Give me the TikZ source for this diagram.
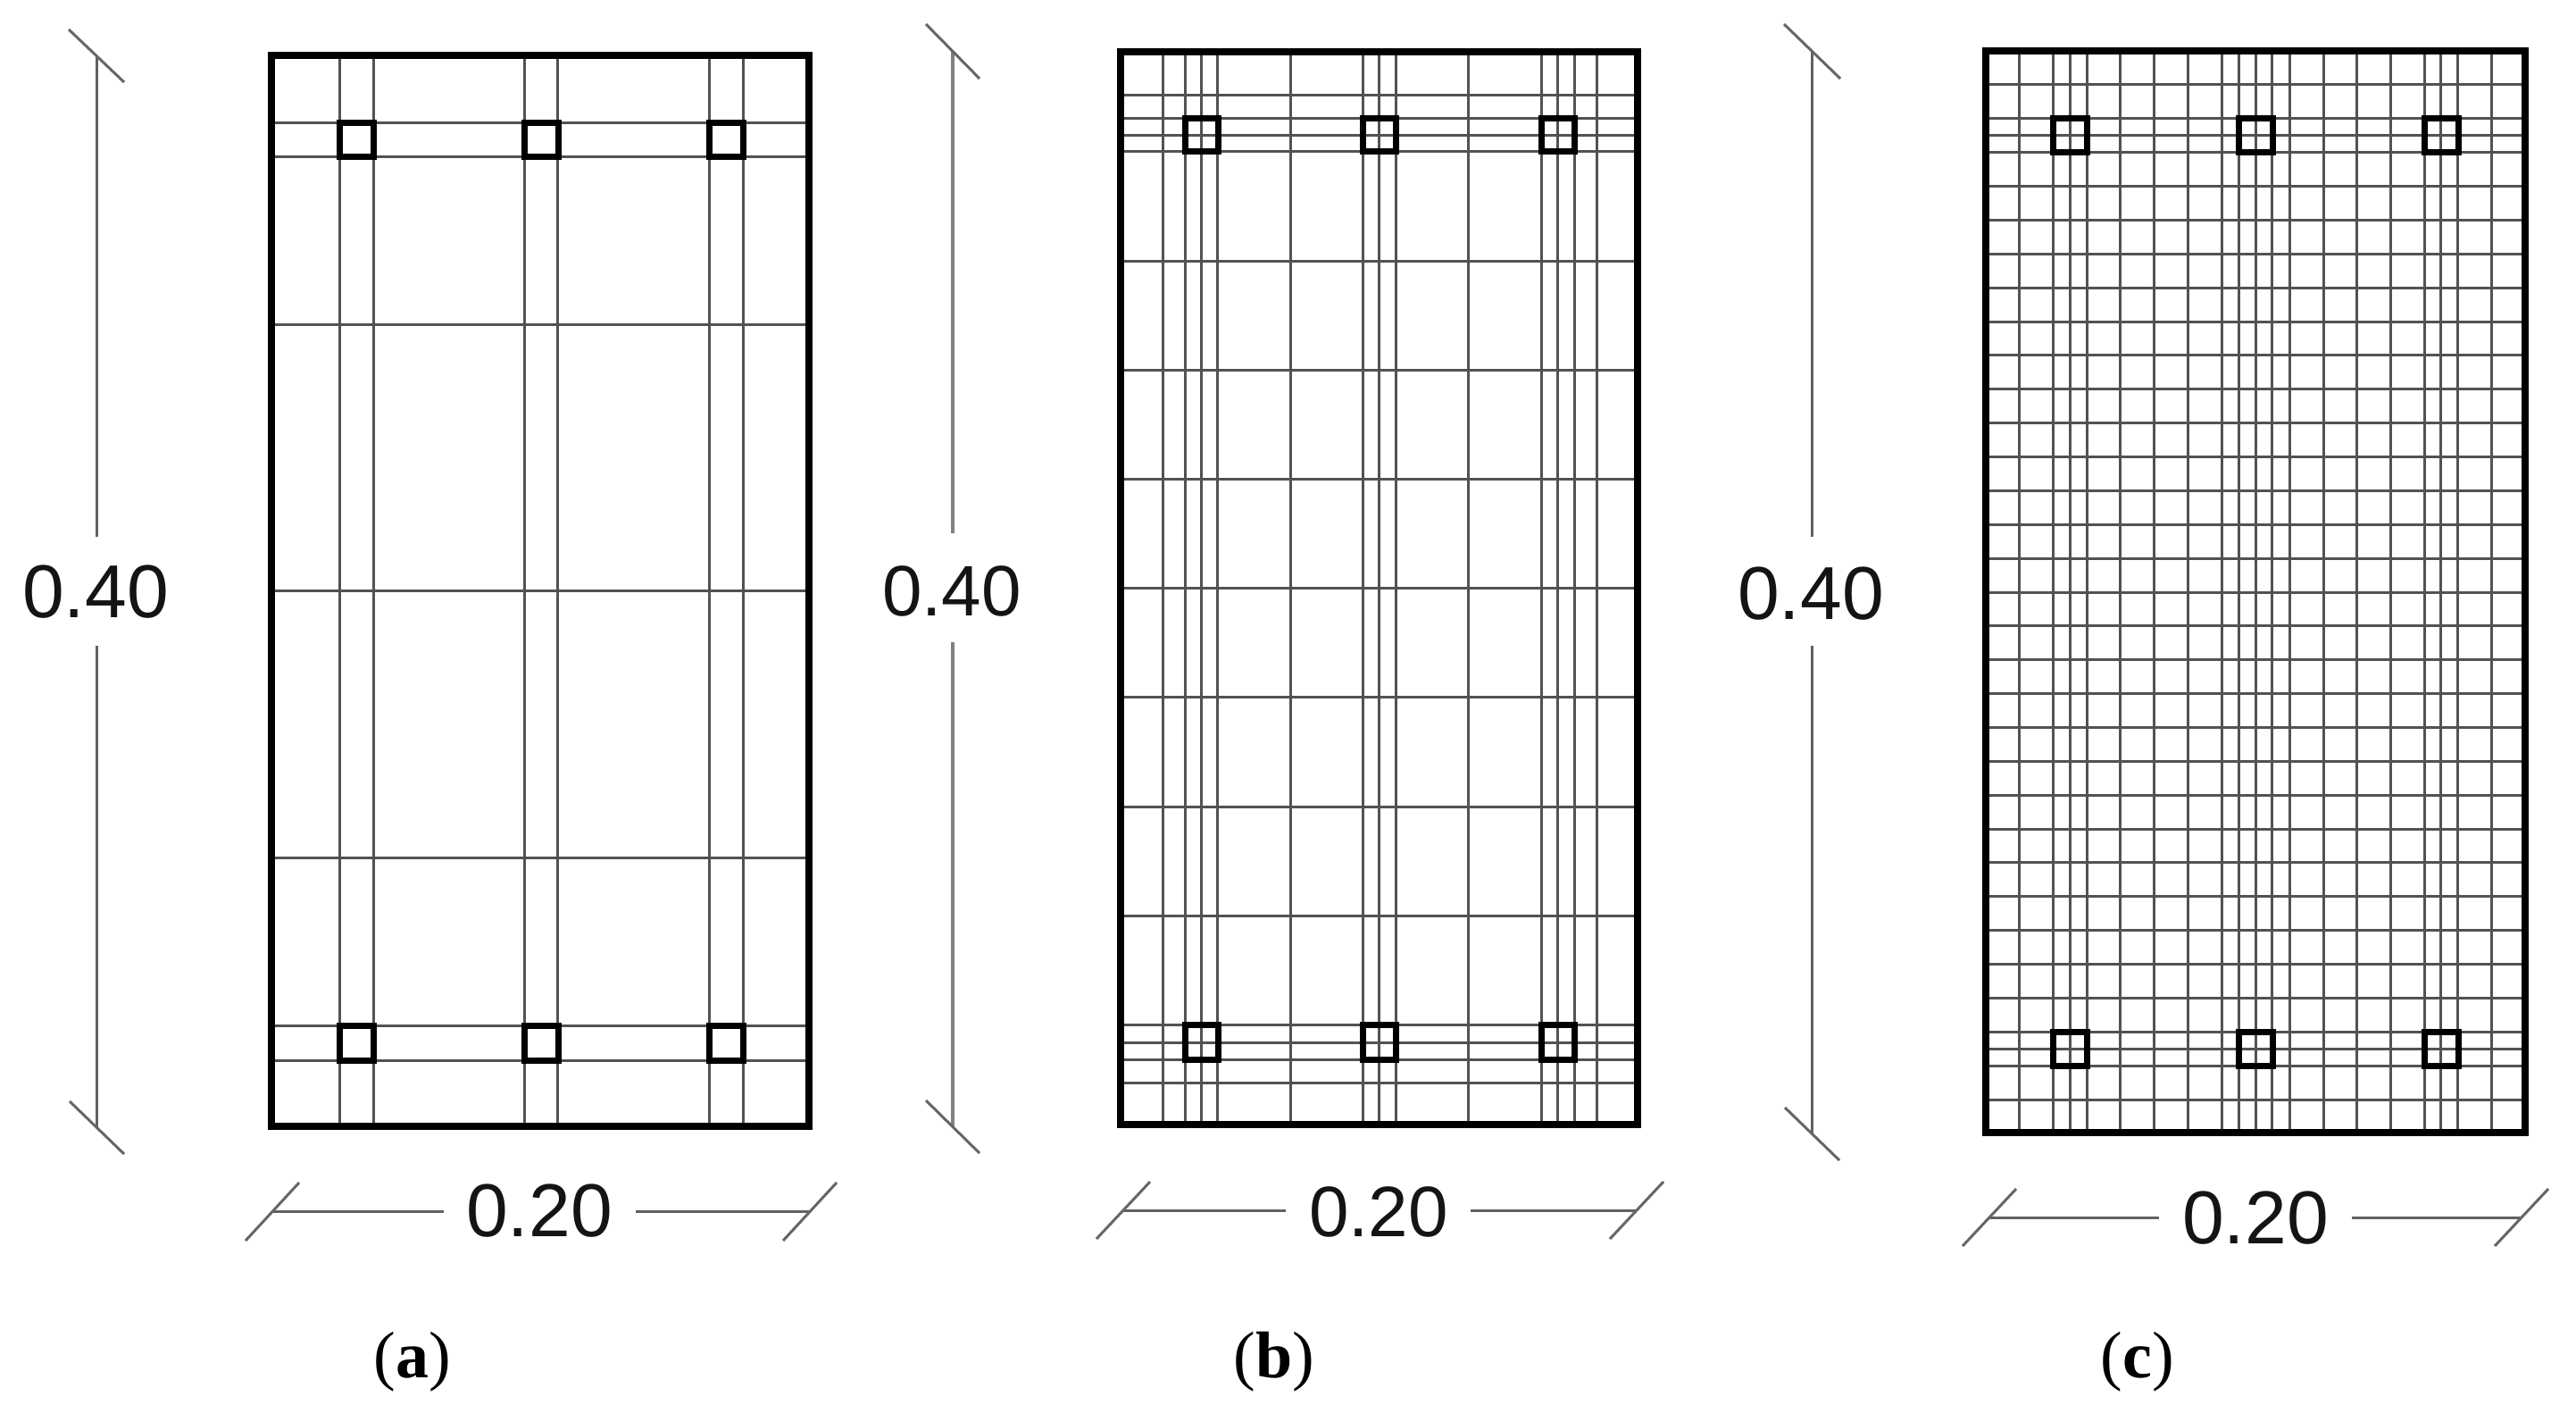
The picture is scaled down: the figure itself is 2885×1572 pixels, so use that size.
\documentclass[tikz,border=0pt]{standalone}
\usepackage{fontspec}
\usetikzlibrary{calc}
\setmainfont{Liberation Sans}
\newfontfamily\capfont{Liberation Serif}
\tikzset{
  gridline/.style={draw=black!68,line width=3pt},
  frame/.style={draw=black,line width=7.5pt,line join=miter},
  rebar/.style={draw=black,line width=7pt,line join=miter},
  dimline/.style={draw=black!62,line width=3pt},
  dimtick/.style={draw=black!60,line width=3pt},
  dimtext/.style={anchor=base,inner sep=0pt,font=\fontsize{84}{90}\selectfont,text=black!92},
  dimtextb/.style={anchor=base,inner sep=0pt,font=\fontsize{80}{90}\selectfont,text=black!92},
  caption/.style={anchor=base,inner sep=0pt,font=\capfont\fontsize{74}{80}\selectfont,text=black}
}
\begin{document}
\begin{tikzpicture}[x=1pt,y=-1pt]
\useasboundingbox[fill=white] (0,0) rectangle (2885,1572);

% ---------- panel (a)
\foreach \x in {380,418,587,624,794,832} \draw[gridline] (\x,62) -- (\x,1261);
\foreach \y in {137,175,363,661,960,1148,1187} \draw[gridline] (304,\y) -- (906,\y);
\foreach \x in {380,587,794} {
  \draw[rebar] (\x,137) rectangle ++(38,38);
  \draw[rebar] (\x,1148) rectangle ++(38,39);
}
\draw[frame] (304,62) rectangle (906,1261);

% ---------- panel (b)
\foreach \x in {1302,1327,1345,1363,1445,1526,1544.5,1563,1644,1726,1744.5,1763,1788}
  \draw[gridline] (\x,58) -- (\x,1259);
\foreach \y in {106,132,151,169,292,414,536.4,658.6,780.8,903,1025.2,1147,1167,1186,1212}
  \draw[gridline] (1255,\y) -- (1834,\y);
\foreach \x in {1327,1526,1726} {
  \draw[rebar] (\x,132) rectangle ++(37,37);
  \draw[rebar] (\x,1147) rectangle ++(37,39);
}
\draw[frame] (1255,58) rectangle (1834,1259);

% ---------- panel (c)
\foreach \x in {2261,2299,2318,2337,2374.5,2412,2450,2488,2507,2526,2544,2564,2602,2639,2677,2715,2733,2752,2790}
  \draw[gridline] (\x,57) -- (\x,1268);
\foreach \y in {94,132,151,170,208,246,284,322,360,397,435,473,511,549,587,625,663,700,738,776,814,852,890,928,965,1003,1041,1079,1117,1155,1174,1193,1231}
  \draw[gridline] (2224,\y) -- (2828,\y);
\foreach \x in {2299,2507,2715} {
  \draw[rebar] (\x,132) rectangle ++(38,38);
  \draw[rebar] (\x,1155) rectangle ++(38,38);
}
\draw[frame] (2224,57) rectangle (2828,1268);

% ---------- dimensions (a)
\node[dimtext] (av) at (107,691) {0.40};
\coordinate (avt) at (108,62);  \coordinate (avb) at (108,1262);
\coordinate (av1) at (108,601); \coordinate (av2) at (108,723);
\draw[dimline] (avt) -- (av1);
\draw[dimline] (av2) -- (avb);
\draw[dimtick] ($(avt)+(-31,-29)$) -- ($(avt)+(31,30)$);
\draw[dimtick] ($(avb)+(-30,-29)$) -- ($(avb)+(31,30)$);
\node[dimtext] (ah) at (604,1384) {0.20};
\coordinate (ahl) at (305,1356); \coordinate (ahr) at (907,1356);
\coordinate (ah1) at (497,1356); \coordinate (ah2) at (712,1356);
\draw[dimline] (ahl) -- (ah1);
\draw[dimline] (ah2) -- (ahr);
\draw[dimtick] ($(ahl)+(-30,33)$) -- ($(ahl)+(30,-32)$);
\draw[dimtick] ($(ahr)+(-30,33)$) -- ($(ahr)+(30,-32)$);

% ---------- dimensions (b)
\node[dimtextb] (bv) at (1066,689) {0.40};
\coordinate (bvt) at (1067,58);  \coordinate (bvb) at (1067,1261);
\coordinate (bv1) at (1067,597); \coordinate (bv2) at (1067,719);
\draw[dimline,line width=4pt,draw=black!50] (bvt) -- (bv1);
\draw[dimline,line width=4pt,draw=black!50] (bv2) -- (bvb);
\draw[dimtick] ($(bvt)+(-30,-31)$) -- ($(bvt)+(30,30)$);
\draw[dimtick] ($(bvb)+(-30,-29)$) -- ($(bvb)+(30,30)$);
\node[dimtextb] (bh) at (1544,1384) {0.20};
\coordinate (bhl) at (1258,1355); \coordinate (bhr) at (1833,1355);
\coordinate (bh1) at (1440,1355); \coordinate (bh2) at (1647,1355);
\draw[dimline] (bhl) -- (bh1);
\draw[dimline] (bh2) -- (bhr);
\draw[dimtick] ($(bhl)+(-30,32)$) -- ($(bhl)+(30,-32)$);
\draw[dimtick] ($(bhr)+(-30,32)$) -- ($(bhr)+(30,-32)$);

% ---------- dimensions (c)
\node[dimtext] (cv) at (2028,693) {0.40};
\coordinate (cvt) at (2029,58);  \coordinate (cvb) at (2029,1269);
\coordinate (cv1) at (2029,601); \coordinate (cv2) at (2029,723);
\draw[dimline] (cvt) -- (cv1);
\draw[dimline] (cv2) -- (cvb);
\draw[dimtick] ($(cvt)+(-31,-31)$) -- ($(cvt)+(32,30)$);
\draw[dimtick] ($(cvb)+(-30,-29)$) -- ($(cvb)+(31,30)$);
\node[dimtext] (ch) at (2526,1392) {0.20};
\coordinate (chl) at (2228,1363); \coordinate (chr) at (2824,1363);
\coordinate (ch1) at (2418,1363); \coordinate (ch2) at (2634,1363);
\draw[dimline] (chl) -- (ch1);
\draw[dimline] (ch2) -- (chr);
\draw[dimtick] ($(chl)+(-30,32)$) -- ($(chl)+(30,-32)$);
\draw[dimtick] ($(chr)+(-30,32)$) -- ($(chr)+(30,-32)$);

% ---------- captions
\node[caption] (capa) at (462,1542) {(\textbf{a})};
\node[caption] (capb) at (1427,1542) {(\textbf{b})};
\node[caption] (capc) at (2394,1542) {(\textbf{c})};
\end{tikzpicture}
\end{document}
